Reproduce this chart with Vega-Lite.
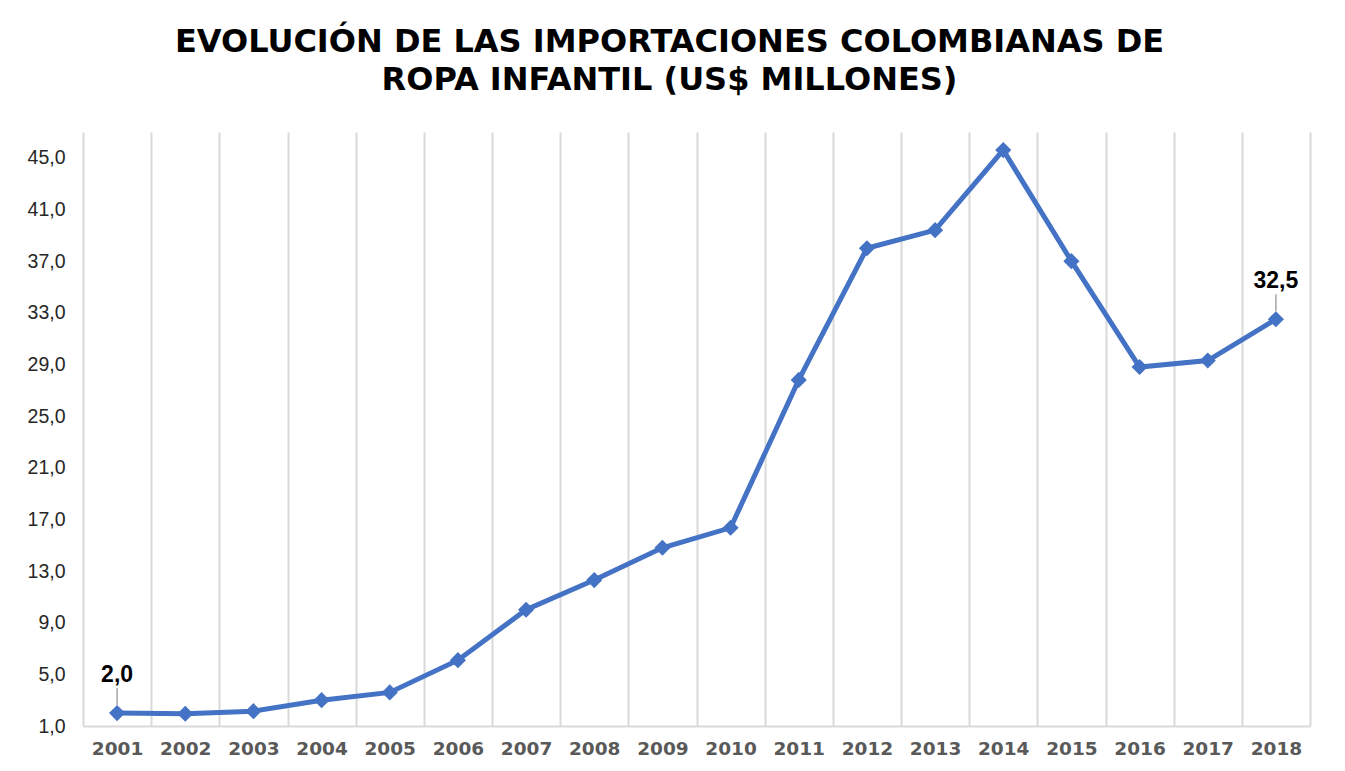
{
  "$schema": "https://vega.github.io/schema/vega-lite/v6.json",
  "width": 1227,
  "height": 594,
  "autosize": {"type": "none"},
  "padding": {"left": 83, "top": 132, "right": 35, "bottom": 45},
  "background": "white",
  "config": {"view": {"stroke": null}},
  "title": {
    "text": ["EVOLUCIÓN DE LAS IMPORTACIONES COLOMBIANAS DE", "ROPA INFANTIL (US$ MILLONES)"],
    "font": "DejaVu Sans",
    "fontSize": 32,
    "fontWeight": "bold",
    "color": "#000000",
    "anchor": "middle",
    "frame": "group",
    "dx": -27,
    "offset": 35,
    "lineHeight": 38
  },
  "data": {
    "values": [
      {"year": 2001, "v": 2.0},
      {"year": 2002, "v": 1.95},
      {"year": 2003, "v": 2.15},
      {"year": 2004, "v": 3.0},
      {"year": 2005, "v": 3.6},
      {"year": 2006, "v": 6.1},
      {"year": 2007, "v": 10.0},
      {"year": 2008, "v": 12.3},
      {"year": 2009, "v": 14.8},
      {"year": 2010, "v": 16.35},
      {"year": 2011, "v": 27.8},
      {"year": 2012, "v": 38.0},
      {"year": 2013, "v": 39.4},
      {"year": 2014, "v": 45.6},
      {"year": 2015, "v": 37.0},
      {"year": 2016, "v": 28.8},
      {"year": 2017, "v": 29.3},
      {"year": 2018, "v": 32.5}
    ]
  },
  "encoding": {
    "x": {
      "field": "year",
      "type": "ordinal",
      "bandPosition": 0.5,
      "scale": {"type": "band", "paddingInner": 0, "paddingOuter": 0},
      "axis": {
        "title": null,
        "labelAngle": 0,
        "ticks": false,
        "domainColor": "#d9d9d9",
        "domainWidth": 2,
        "grid": true,
        "gridColor": "#d9d9d9",
        "gridWidth": 2,
        "tickBand": "extent",
        "labelFont": "DejaVu Sans",
        "labelFontWeight": "bold",
        "labelFontSize": 18.5,
        "labelColor": "#595959",
        "labelPadding": 13
      }
    },
    "y": {
      "field": "v",
      "type": "quantitative",
      "scale": {"domain": [1, 47], "nice": false, "zero": false},
      "axis": {
        "title": null,
        "domain": false,
        "ticks": false,
        "grid": false,
        "values": [1, 5, 9, 13, 17, 21, 25, 29, 33, 37, 41, 45],
        "labelExpr": "replace(format(datum.value, '.1f'), '.', ',')",
        "labelFont": "Liberation Sans",
        "labelFontSize": 19.5,
        "labelColor": "#262626",
        "labelPadding": 18
      }
    }
  },
  "layer": [
    {"mark": {"type": "line", "color": "#4472C4", "strokeWidth": 5}},
    {"mark": {"type": "point", "shape": "diamond", "size": 260, "filled": true, "opacity": 1, "color": "#4472C4"}},
    {
      "transform": [{"filter": "datum.year == 2001 || datum.year == 2018"}],
      "mark": {"type": "rule", "color": "#a6a6a6", "strokeWidth": 1.5, "yOffset": -8, "y2Offset": -25},
      "encoding": {"y2": {"field": "v"}}
    },
    {
      "transform": [
        {"filter": "datum.year == 2001 || datum.year == 2018"},
        {"calculate": "replace(format(datum.v, '.1f'), '.', ',')", "as": "lab"}
      ],
      "mark": {"type": "text", "font": "Liberation Sans", "fontSize": 23, "fontWeight": "bold", "color": "#000000", "baseline": "alphabetic", "dy": -31},
      "encoding": {"text": {"field": "lab"}}
    }
  ]
}
